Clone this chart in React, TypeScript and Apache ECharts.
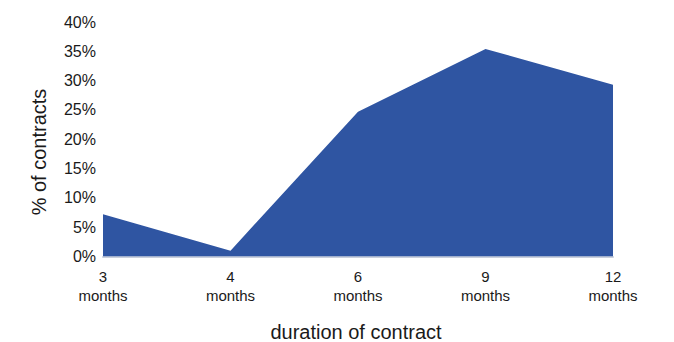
import React, { useEffect, useRef } from "react";
import * as echarts from "echarts";

const categories = ["3\nmonths", "4\nmonths", "6\nmonths", "9\nmonths", "12\nmonths"];
const shareValues = [7.2, 1.0, 24.7, 35.4, 29.3];
const yTicks = [0, 5, 10, 15, 20, 25, 30, 35, 40];

const FONT = "Liberation Sans, Arial, Helvetica, sans-serif";

export default function App() {
  const ref = useRef<HTMLDivElement>(null);
  useEffect(() => {
    if (!ref.current) return;
    const chart = echarts.init(ref.current, undefined, { renderer: "svg" });
    chart.setOption({
      animation: false,
      backgroundColor: "#ffffff",
      grid: { left: 103, right: 61, top: 22, bottom: 85.5 },
      xAxis: {
        type: "category",
        data: categories,
        boundaryGap: false,
        axisLine: { show: true, lineStyle: { color: "#c9cfdc", width: 2 } },
        axisTick: { show: false },
        axisLabel: {
          color: "#1a1a1a",
          fontFamily: FONT,
          fontSize: 15,
          lineHeight: 19,
          margin: 10,
        },
      },
      yAxis: {
        type: "value",
        min: yTicks[0],
        max: yTicks[yTicks.length - 1],
        interval: 5,
        splitLine: { show: false },
        axisLine: { show: false },
        axisTick: { show: false },
        axisLabel: {
          color: "#1a1a1a",
          fontFamily: FONT,
          fontSize: 16,
          margin: 7,
          formatter: (v: number) => `${v}%`,
        },
      },
      graphic: [
        {
          type: "text",
          x: 39,
          y: 152,
          rotation: Math.PI / 2,
          style: {
            text: "% of contracts",
            fill: "#1a1a1a",
            font: `20px ${FONT}`,
            textAlign: "center",
            textVerticalAlign: "middle",
          },
        },
        {
          type: "text",
          x: 356,
          y: 332,
          style: {
            text: "duration of contract",
            fill: "#1a1a1a",
            font: `20px ${FONT}`,
            textAlign: "center",
            textVerticalAlign: "middle",
          },
        },
      ],
      series: [
        {
          type: "line",
          data: shareValues,
          symbol: "none",
          lineStyle: { width: 0 },
          areaStyle: { color: "#2f55a2", opacity: 1 },
          z: 1,
        },
      ],
    });
    return () => chart.dispose();
  }, []);
  return (
    <div
      ref={ref}
      style={{ position: "absolute", left: 0, top: 0, width: 674, height: 342 }}
    />
  );
}
